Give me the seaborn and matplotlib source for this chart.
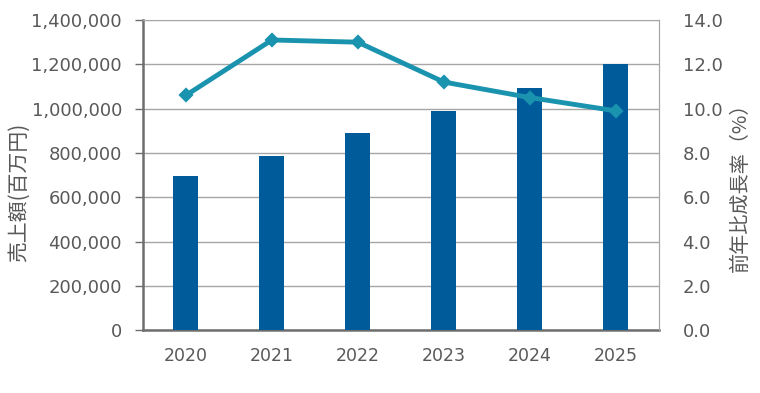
import numpy as np
import pandas as pd
import seaborn as sns
from matplotlib import pyplot as plt
from matplotlib.ticker import FuncFormatter, FixedLocator

years = ['2020', '2021', '2022', '2023', '2024', '2025']
sales = [695000, 786000, 889000, 988000, 1092000, 1200000]
growth = [10.6, 13.1, 13.0, 11.2, 10.5, 9.9]

sns.set_style('white')
plt.rcParams['font.family'] = ['DejaVu Sans', 'Noto Sans CJK JP']

bar_color = '#005B9A'
line_color = '#1A93AF'
text_color = '#595959'
grid_color = '#A6A6A6'

df = pd.DataFrame({'year': years, 'sales': sales, 'growth': growth})

fig, ax = plt.subplots(figsize=(7.6, 3.93), dpi=100)
fig.subplots_adjust(left=0.188, right=0.867, top=0.949, bottom=0.160)

sns.barplot(data=df, x='year', y='sales', color=bar_color, width=0.29,
            saturation=1, linewidth=0, ax=ax, zorder=3)
ax.set_ylim(0, 1400000)
ax.set_yticks(np.arange(0, 1400001, 200000))
ax.yaxis.set_major_formatter(FuncFormatter(lambda v, p: f'{int(v):,}'))
ax.yaxis.grid(True, color=grid_color, linewidth=1)
ax.set_axisbelow(True)
ax.set_xlim(-0.5, 5.5)

# tick marks between categories
ax.xaxis.set_minor_locator(FixedLocator(np.arange(-0.5, 6, 1)))
ax.tick_params(axis='x', which='major', length=0, pad=12, labelsize=12.5, colors=text_color)
ax.tick_params(axis='x', which='minor', length=6, width=1.5, color='#6E6E6E', direction='out')
ax.tick_params(axis='y', length=6, width=1, color='#6E6E6E', labelsize=13, colors=text_color, pad=9)
ax.set_xlabel('')
ax.set_ylabel('売上額(百万円)', fontsize=15, color=text_color,
              family=['Noto Sans CJK JP'])
ax.yaxis.set_label_coords(-0.219, 0.445)

for s in ['left', 'bottom']:
    ax.spines[s].set_color('#6E6E6E')
    ax.spines[s].set_linewidth(1.8)
ax.spines['top'].set_color(grid_color)
ax.spines['right'].set_color(grid_color)

ax2 = ax.twinx()
sns.pointplot(data=df, x='year', y='growth', color=line_color, markers='D',
              markersize=5, linewidth=3.5, ax=ax2)
ax2.set_ylim(0, 14)
ax2.set_yticks(np.arange(0, 14.1, 2))
ax2.yaxis.set_major_formatter(FuncFormatter(lambda v, p: f'{v:.1f}'))
ax2.tick_params(axis='y', length=0, labelsize=13, colors=text_color, pad=17)
ax2.set_xlim(-0.5, 5.5)
ax2.set_xlabel('')
ax2.set_ylabel('前年比成長率（%）', fontsize=14.5, color=text_color,
               family=['Noto Sans CJK JP', 'DejaVu Sans'])
ax2.yaxis.set_label_coords(1.137, 0.477)
for s in ['left', 'bottom', 'top']:
    ax2.spines[s].set_visible(False)
ax2.spines['right'].set_color(grid_color)
ax2.grid(False)

fig.savefig('out.png', dpi=100)
